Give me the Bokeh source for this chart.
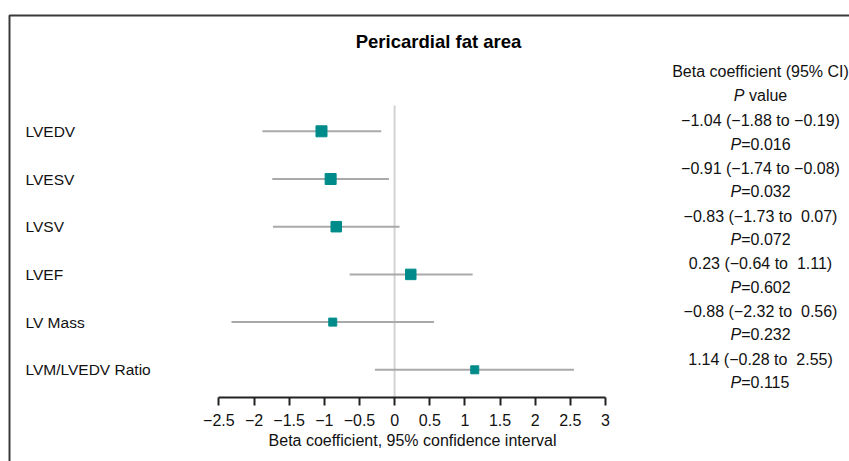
from bokeh.plotting import figure
from bokeh.models import Range1d, LinearAxis, FixedTicker, Label, BoxAnnotation
from bokeh.embed import file_html
from bokeh.resources import INLINE
from bokeh.core.properties import value

# ---------------- data ----------------
outcomes = ["LVEDV", "LVESV", "LVSV", "LVEF", "LV Mass", "LVM/LVEDV Ratio"]
beta = [-1.04, -0.91, -0.83, 0.23, -0.88, 1.14]
ci_low = [-1.88, -1.74, -1.73, -0.64, -2.32, -0.28]
ci_high = [-0.19, -0.08, 0.07, 1.11, 0.56, 2.55]
p_values = ["0.016", "0.032", "0.072", "0.602", "0.232", "0.115"]
tick_values = [-2.5, -2.0, -1.5, -1.0, -0.5, 0.0, 0.5, 1.0, 1.5, 2.0, 2.5, 3.0]
tick_labels = ["\u22122.5", "\u22122", "\u22121.5", "\u22121", "\u22120.5", "0",
               "0.5", "1", "1.5", "2", "2.5", "3"]
title_text = "Pericardial fat area"
header_text = "Beta coefficient (95% CI)"
x_title = "Beta coefficient, 95% confidence interval"

# ---------------- styling / layout ----------------
FONT = "Liberation Sans"
W, H = 849, 461
X0_PX = 394.1        # canvas x of beta = 0
PX_PER_X = 70.3
ROW1_PX = 369.3      # canvas y of bottom row
PX_PER_ROW = 47.7
AXIS_PX = 397
marker_size = [11, 11, 10.5, 10.5, 8, 8]
TEAL = "#008b8b"
TXT = "#111111"

def fmt(v, pad=False):
    s = f"{abs(v):.2f}"
    if v < 0:
        return "\u2212" + s
    return ("\u00a0" + s) if pad else s

ci_text = [f"{fmt(b)} ({fmt(l)} to {fmt(h, True)})" for b, l, h in zip(beta, ci_low, ci_high)]
p_text = ["=" + pv for pv in p_values]

n = len(outcomes)
rows = [n - i for i in range(n)]

def px_to_x(px):
    return (px - X0_PX) / PX_PER_X

def py_to_y(py):
    return 1 + (ROW1_PX - py) / PX_PER_ROW

p = figure(width=W, height=H,
           x_range=Range1d(px_to_x(0), px_to_x(W)), y_range=Range1d(py_to_y(H), py_to_y(0)),
           output_backend="svg", toolbar_location=None,
           x_axis_location=None, y_axis_location=None,
           min_border_left=0, min_border_top=0, min_border_right=0, min_border_bottom=0,
           outline_line_color=None, background_fill_color="white", border_fill_color="white")
p.grid.visible = False

# frame border (cut-off box)
p.add_layout(BoxAnnotation(left=9, top=15, right=W + 20, bottom=H + 20,
                           left_units="canvas", right_units="canvas",
                           top_units="canvas", bottom_units="canvas",
                           fill_color=None, fill_alpha=0,
                           line_color="#3a3a3a", line_alpha=1.0, line_width=2))

# zero reference line
p.segment(x0=[0], y0=[py_to_y(AXIS_PX)], x1=[0], y1=[py_to_y(105)],
          line_color="#d3d3d3", line_width=2)

# CI lines and point estimates
p.segment(x0=ci_low, y0=rows, x1=ci_high, y1=rows, line_color="#a9a9a9", line_width=2)
p.scatter(x=beta, y=rows, size=marker_size, marker="square",
          fill_color=TEAL, line_color=TEAL)

# outcome labels
p.text(x=[px_to_x(25)] * n, y=rows, text=outcomes, text_align="left", text_baseline="middle",
       text_font=value(FONT), text_font_size="15.5px", text_color=TXT)

# right column
xc = px_to_x(760)
p.text(x=[xc] * n, y=[r + 0.22 for r in rows], text=ci_text, text_align="center",
       text_baseline="middle", text_font=value(FONT), text_font_size="16px", text_color=TXT)
p.text(x=[xc] * n, y=[r - 0.268 for r in rows], text=["P"] * n, text_align="right",
       x_offset=-19.3, text_baseline="middle", text_font=value(FONT), text_font_style="italic",
       text_font_size="16px", text_color=TXT)
p.text(x=[xc] * n, y=[r - 0.268 for r in rows], text=p_text, text_align="left",
       x_offset=-19.3, text_baseline="middle", text_font=value(FONT),
       text_font_size="16px", text_color=TXT)

p.add_layout(Label(x=xc, y=n + 1.25, text=header_text, text_align="center", text_baseline="middle",
                   text_font=FONT, text_font_size="16px", text_color=TXT))
p.add_layout(Label(x=xc, y=n + 0.75, text="P", text_align="right", x_offset=-16,
                   text_baseline="middle", text_font=FONT, text_font_style="italic",
                   text_font_size="16px", text_color=TXT))
p.add_layout(Label(x=xc, y=n + 0.75, text="value", text_align="left", x_offset=-11.5,
                   text_baseline="middle", text_font=FONT,
                   text_font_size="16px", text_color=TXT))

# title
p.add_layout(Label(x=px_to_x(438), y=py_to_y(41), text=title_text, text_align="center",
                   text_baseline="middle", text_font=FONT, text_font_style="bold",
                   text_font_size="18.5px", text_color="#000000"))

# x axis, drawn at a fixed location inside the frame
ax = LinearAxis(ticker=FixedTicker(ticks=tick_values), bounds=(tick_values[0], tick_values[-1]),
                fixed_location=py_to_y(AXIS_PX),
                major_label_overrides={t: l for t, l in zip(tick_values, tick_labels)})
ax.axis_line_color = "#222222"
ax.axis_line_width = 2
ax.major_tick_line_color = "#222222"
ax.major_tick_line_width = 2
ax.major_tick_in = 0
ax.major_tick_out = 8
ax.minor_tick_line_color = None
ax.major_label_standoff = 8
ax.major_label_text_font = FONT
ax.major_label_text_font_size = "16px"
ax.major_label_text_color = TXT
p.add_layout(ax, "below")

p.add_layout(Label(x=px_to_x(412), y=py_to_y(440), text=x_title, text_align="center",
                   text_baseline="middle", text_font=FONT, text_font_size="16px",
                   text_color=TXT))

open("out.html", "w").write(file_html(p, INLINE))
